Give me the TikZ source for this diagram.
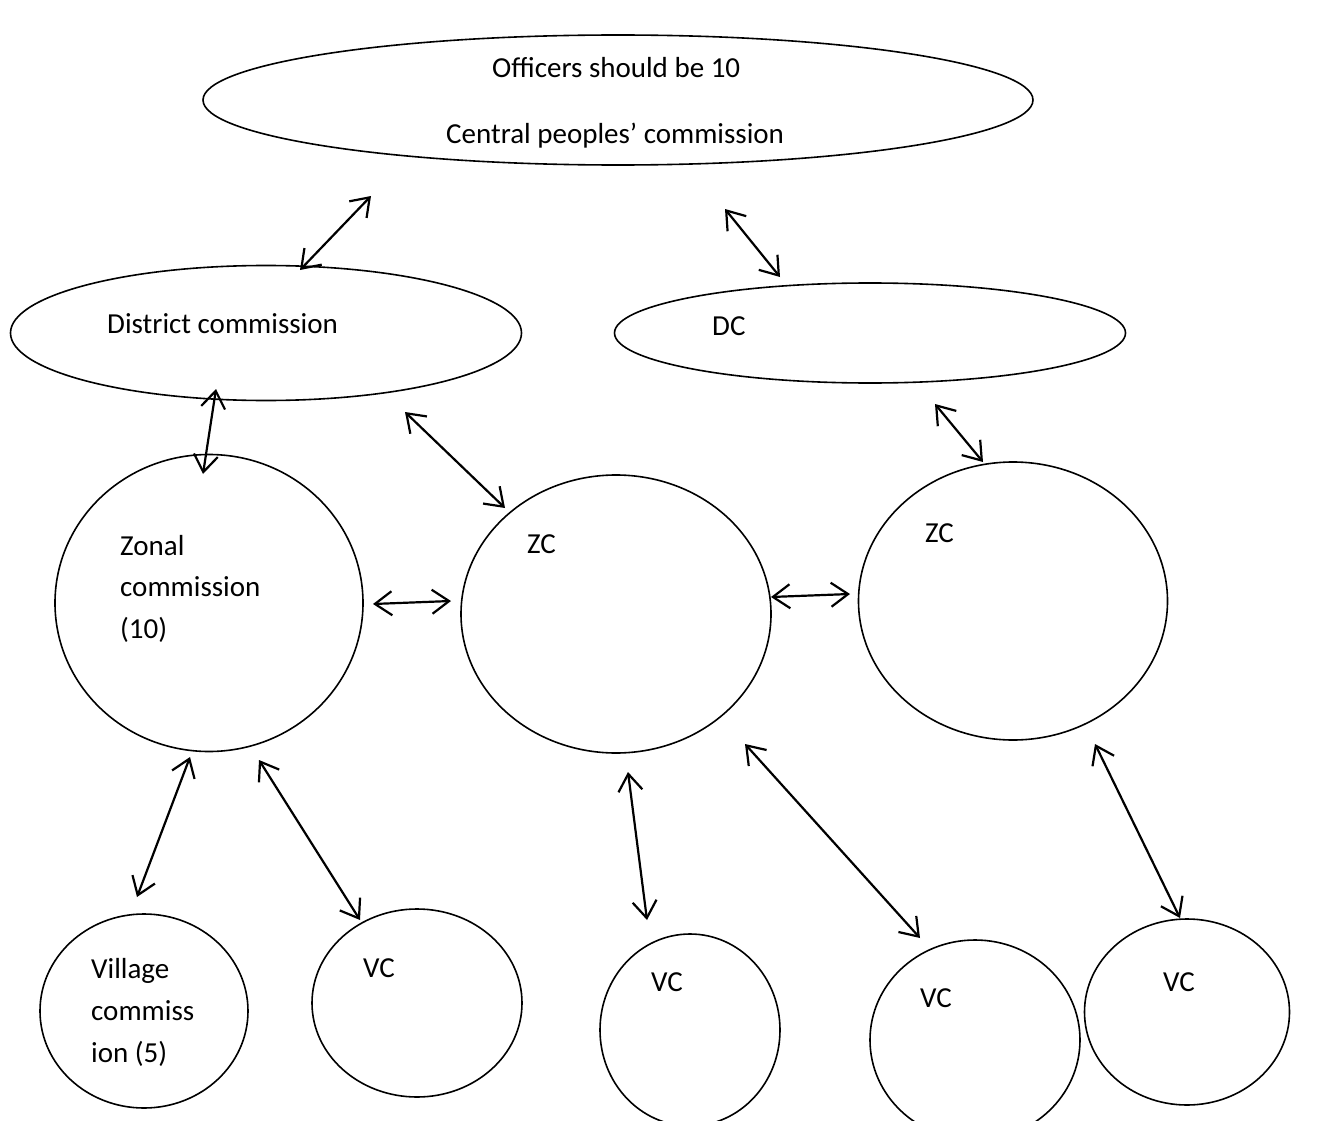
\documentclass[tikz,border=0pt]{standalone}
\usepackage{fontspec}
\setmainfont{Carlito}
\usetikzlibrary{shapes.geometric,arrows.meta}
\begin{document}
\begin{tikzpicture}[x=1pt,y=-1pt,
  oval/.style={draw, ellipse, line width=1.6pt, inner sep=0pt},
  lbl/.style={anchor=base west, inner sep=0pt, font=\fontsize{29}{42}\selectfont},
  link/.style={line width=2.2pt, {Straight Barb[length=17pt,width=24pt,line width=2.2pt]}-{Straight Barb[length=17pt,width=24pt,line width=2.2pt]}}]
\useasboundingbox (0,0) rectangle (1323,1121);
\clip (0,0) rectangle (1323,1121);
% shapes
\node[oval, minimum width=830pt, minimum height=130pt] (cpc) at (618,100) {};
\node[oval, minimum width=511pt, minimum height=135pt] (dc1) at (266,333) {};
\node[oval, minimum width=511pt, minimum height=100pt] (dc2) at (870,333) {};
\node[oval, minimum width=308pt, minimum height=297pt] (zc1) at (209,603) {};
\node[oval, minimum width=310pt, minimum height=278pt] (zc2) at (616,614) {};
\node[oval, minimum width=309pt, minimum height=278pt] (zc3) at (1013,601) {};
\node[oval, minimum width=208pt, minimum height=194pt] (vc1) at (144,1011) {};
\node[oval, minimum width=210pt, minimum height=188pt] (vc2) at (417,1003) {};
\node[oval, minimum width=180pt, minimum height=192pt] (vc3) at (690,1030) {};
\node[oval, minimum width=210pt, minimum height=200pt] (vc4) at (975,1040) {};
\node[oval, minimum width=205pt, minimum height=186pt] (vc5) at (1187,1012) {};
% texts
\node[lbl] (t1) at (492,78) {Officers should be 10};
\node[lbl] (t2) at (446,144) {Central peoples’ commission};
\node[lbl] (t3) at (107,333) {District commission};
\node[lbl] (t4) at (712,335) {DC};
\node[lbl] (t5a) at (120,555) {Zonal};
\node[lbl] (t5b) at (120,596) {commission};
\node[lbl] (t5c) at (120,638) {(10)};
\node[lbl] (t6) at (527,553) {ZC};
\node[lbl] (t7) at (925,542) {ZC};
\node[lbl] (t8a) at (91,978) {Village};
\node[lbl] (t8b) at (91,1020) {commiss};
\node[lbl] (t8c) at (91,1062) {ion (5)};
\node[lbl] (t9) at (363,977) {VC};
\node[lbl] (t10) at (651,991) {VC};
\node[lbl] (t11) at (920,1007) {VC};
\node[lbl] (t12) at (1163,991) {VC};
% arrow end points
\coordinate (a1s) at (371,196); \coordinate (a1e) at (300,270);
\coordinate (a2s) at (725,209); \coordinate (a2e) at (780,277);
\coordinate (a3s) at (216,389); \coordinate (a3e) at (203,474);
\coordinate (a4s) at (405,412); \coordinate (a4e) at (505,508);
\coordinate (a5s) at (935,404); \coordinate (a5e) at (983,462);
\coordinate (a6s) at (373,604); \coordinate (a6e) at (451,601);
\coordinate (a7s) at (771,597); \coordinate (a7e) at (850,594);
\coordinate (a8s) at (190,757); \coordinate (a8e) at (137,897);
\coordinate (a9s) at (259,760); \coordinate (a9e) at (360,920);
\coordinate (a10s) at (628,772); \coordinate (a10e) at (647,920);
\coordinate (a11s) at (745,744); \coordinate (a11e) at (920,938);
\coordinate (a12s) at (1095,744); \coordinate (a12e) at (1180,918);
\foreach \i in {1,...,12} \draw[link] (a\i s) -- (a\i e);
\end{tikzpicture}
\end{document}
